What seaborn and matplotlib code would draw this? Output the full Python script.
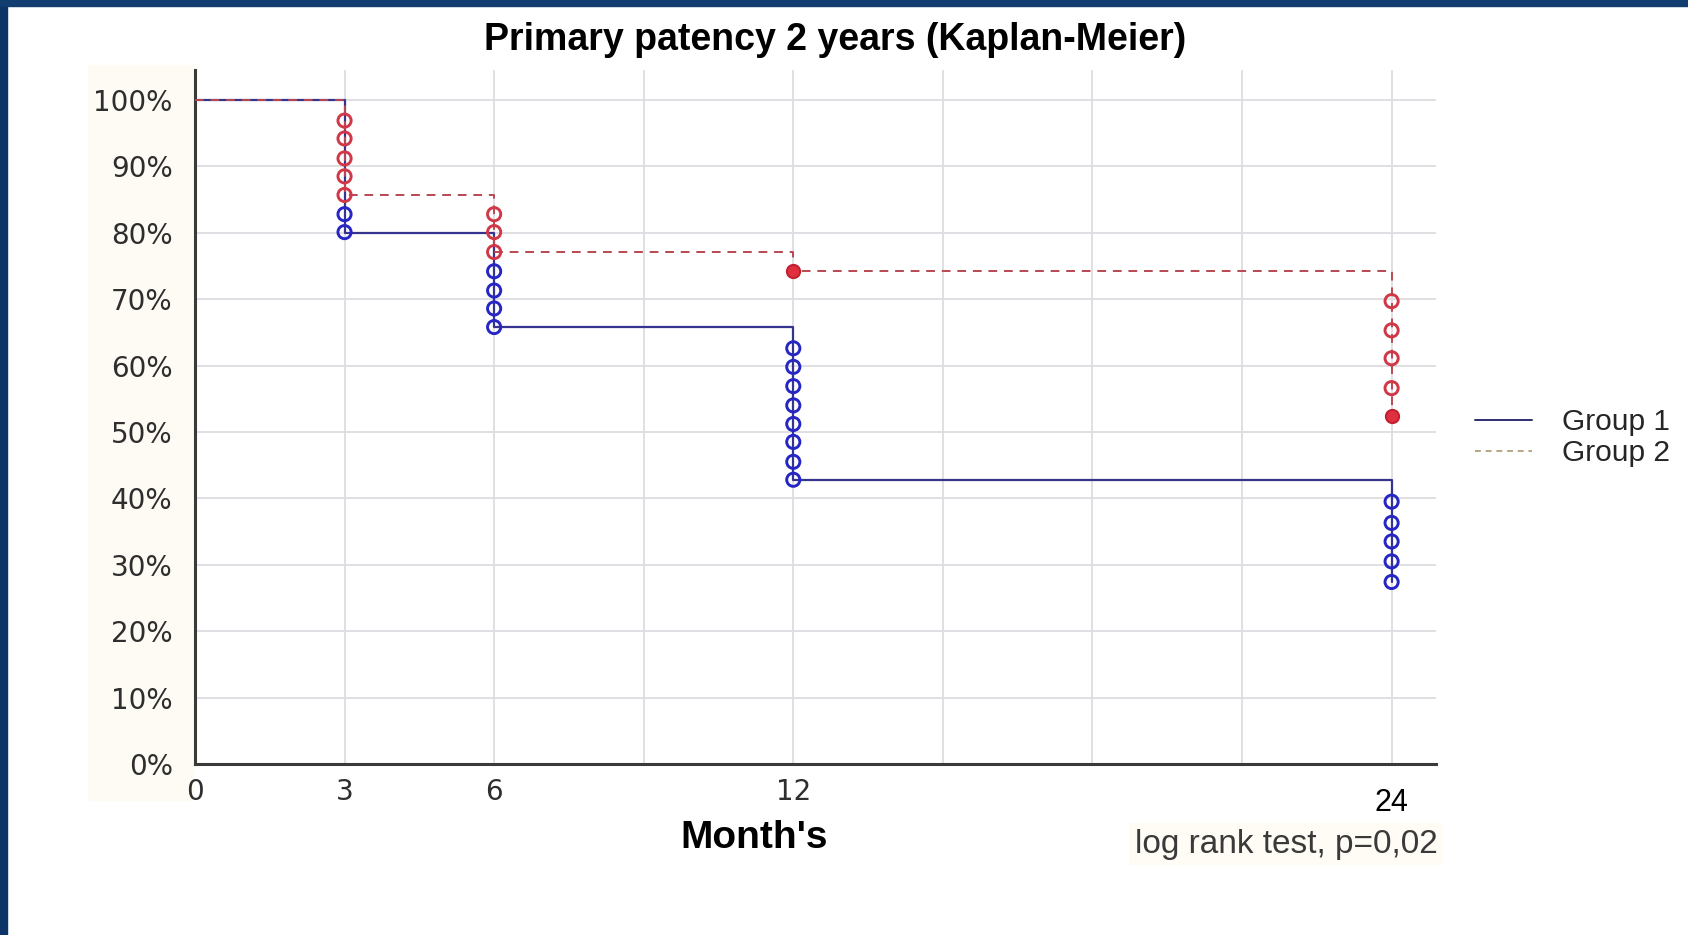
import matplotlib
matplotlib.use('Agg')
import matplotlib.pyplot as plt
from matplotlib.lines import Line2D
from matplotlib.patches import Rectangle
import seaborn as sns

# Kaplan-Meier step values (% patent) at each month
months = [0, 3, 6, 12, 24]
group1_surv = [100, 80.0, 65.8, 42.8, 27.4]
group2_surv = [100, 85.7, 77.1, 74.2, 52.4]

# censored observations (circles) stacked on the drops
g1_cens_t = [3, 3, 6, 6, 6, 6, 12, 12, 12, 12, 12, 12, 12, 12, 24, 24, 24, 24, 24]
g1_cens_p = [82.8, 80.1, 74.2, 71.3, 68.6, 65.8, 62.6, 59.8, 56.9, 54.0, 51.2,
             48.5, 45.5, 42.8, 39.5, 36.3, 33.5, 30.5, 27.4]
g2_cens_t = [3, 3, 3, 3, 3, 6, 6, 6, 12, 24, 24, 24, 24, 24]
g2_cens_p = [96.9, 94.2, 91.2, 88.5, 85.7, 82.8, 80.1, 77.1, 74.2, 69.7, 65.3,
             61.1, 56.6, 52.4]
g2_filled = [False] * 8 + [True] + [False] * 4 + [True]

xticks = [0, 3, 6, 9, 12, 15, 18, 21, 24]
xtick_labels = ['0', '3', '6', '', '12', '', '', '', '']
yticks = list(range(0, 101, 10))

sns.set_style('white')
plt.rcParams['font.family'] = ['Liberation Sans', 'DejaVu Sans']

fig = plt.figure(figsize=(16.88, 9.35), dpi=100)
fig.patch.set_facecolor('white')
# slide frame (blue edges) and cream panel behind y labels
fig.patches.append(Rectangle((0, 0), 7 / 1688, 1, transform=fig.transFigure,
                             color='#0c3466', zorder=-1))
fig.patches.append(Rectangle((0, 1 - 6 / 935), 1, 6 / 935, transform=fig.transFigure,
                             color='#123d70', zorder=-1))
fig.patches.append(Rectangle((88 / 1688, 1 - 800 / 935), 105 / 1688, 735 / 935,
                             transform=fig.transFigure, color='#fefbf4', zorder=-1))

ax = fig.add_axes([0.1155, 0.183, 0.7355, 0.742])
ax.set_facecolor('white')

blue_line = '#35358e'
blue_mark = '#2626c4'
red_line = '#b84850'
red_mark = '#d03848'

sns.lineplot(x=months, y=group1_surv, drawstyle='steps-post', color=blue_line,
             linewidth=1.6, estimator=None, sort=False, ax=ax, zorder=3)
sns.lineplot(x=months, y=group2_surv, drawstyle='steps-post', color=red_line,
             linewidth=1.4, linestyle=(0, (4.5, 3.5)), estimator=None, sort=False,
             ax=ax, zorder=4)

sns.scatterplot(x=g1_cens_t, y=g1_cens_p, marker='o', s=90, facecolor='none',
                edgecolor=blue_mark, linewidth=2.1, ax=ax, zorder=5)
open_t = [t for t, f in zip(g2_cens_t, g2_filled) if not f]
open_p = [p for p, f in zip(g2_cens_p, g2_filled) if not f]
fill_t = [t for t, f in zip(g2_cens_t, g2_filled) if f]
fill_p = [p for p, f in zip(g2_cens_p, g2_filled) if f]
sns.scatterplot(x=open_t, y=open_p, marker='o', s=90, facecolor='none',
                edgecolor=red_mark, linewidth=2.1, ax=ax, zorder=6)
sns.scatterplot(x=fill_t, y=fill_p, marker='o', s=90, color='#e03040',
                edgecolor='#c02030', linewidth=1.5, ax=ax, zorder=6)

ax.set_xlim(0, 24.9)
ax.set_ylim(0, 104.5)
ax.set_xticks(xticks)
ax.set_xticklabels(xtick_labels)
ax.set_yticks(yticks)
ax.set_yticklabels([f'{v}%' for v in yticks])
ax.grid(True, color='#dcdce2', linewidth=1.3)
ax.set_axisbelow(True)
for side in ['top', 'right']:
    ax.spines[side].set_visible(False)
for side in ['left', 'bottom']:
    ax.spines[side].set_color('#3a3a3a')
    ax.spines[side].set_linewidth(2.2)
ax.tick_params(axis='both', direction='in', length=4, width=1.5, color='#3a3a3a',
               labelsize=20, labelcolor='#2e2e2e')
for lab in ax.get_xticklabels() + ax.get_yticklabels():
    lab.set_fontfamily(['DejaVu Sans'])
ax.tick_params(axis='y', pad=16)
ax.tick_params(axis='x', pad=10)
ax.text(24, -0.035, '24', transform=ax.get_xaxis_transform(), ha='center', va='top',
        fontsize=22, color='black', family=['Liberation Sans Narrow', 'Liberation Sans'])
ax.set_xlabel('')
ax.set_ylabel('')

fig.text(0.495, 0.957, 'Primary patency 2 years (Kaplan-Meier)', ha='center',
         va='center', fontsize=27, fontweight='bold', color='black')
fig.text(0.447, 0.104, "Month's", ha='center', va='center', fontsize=28,
         fontweight='bold', color='black')
fig.text(0.762, 0.097, 'log rank test, p=0,02', ha='center', va='center',
         fontsize=24, color='#3a3a3a',
         bbox=dict(facecolor='#fefcf5', edgecolor='none', pad=4))

handles = [Line2D([0], [0], color='#2e2e70', linewidth=1.4),
           Line2D([0], [0], color='#b8a484', linewidth=1.4, linestyle=(0, (3, 2.5)))]
fig.legend(handles, ['Group 1', 'Group 2'], loc='center left',
           bbox_to_anchor=(0.858, 0.532), frameon=False, fontsize=21.5,
           handlelength=1.9, handletextpad=1.0, labelspacing=0.1)

fig.savefig('out.png', dpi=100)
